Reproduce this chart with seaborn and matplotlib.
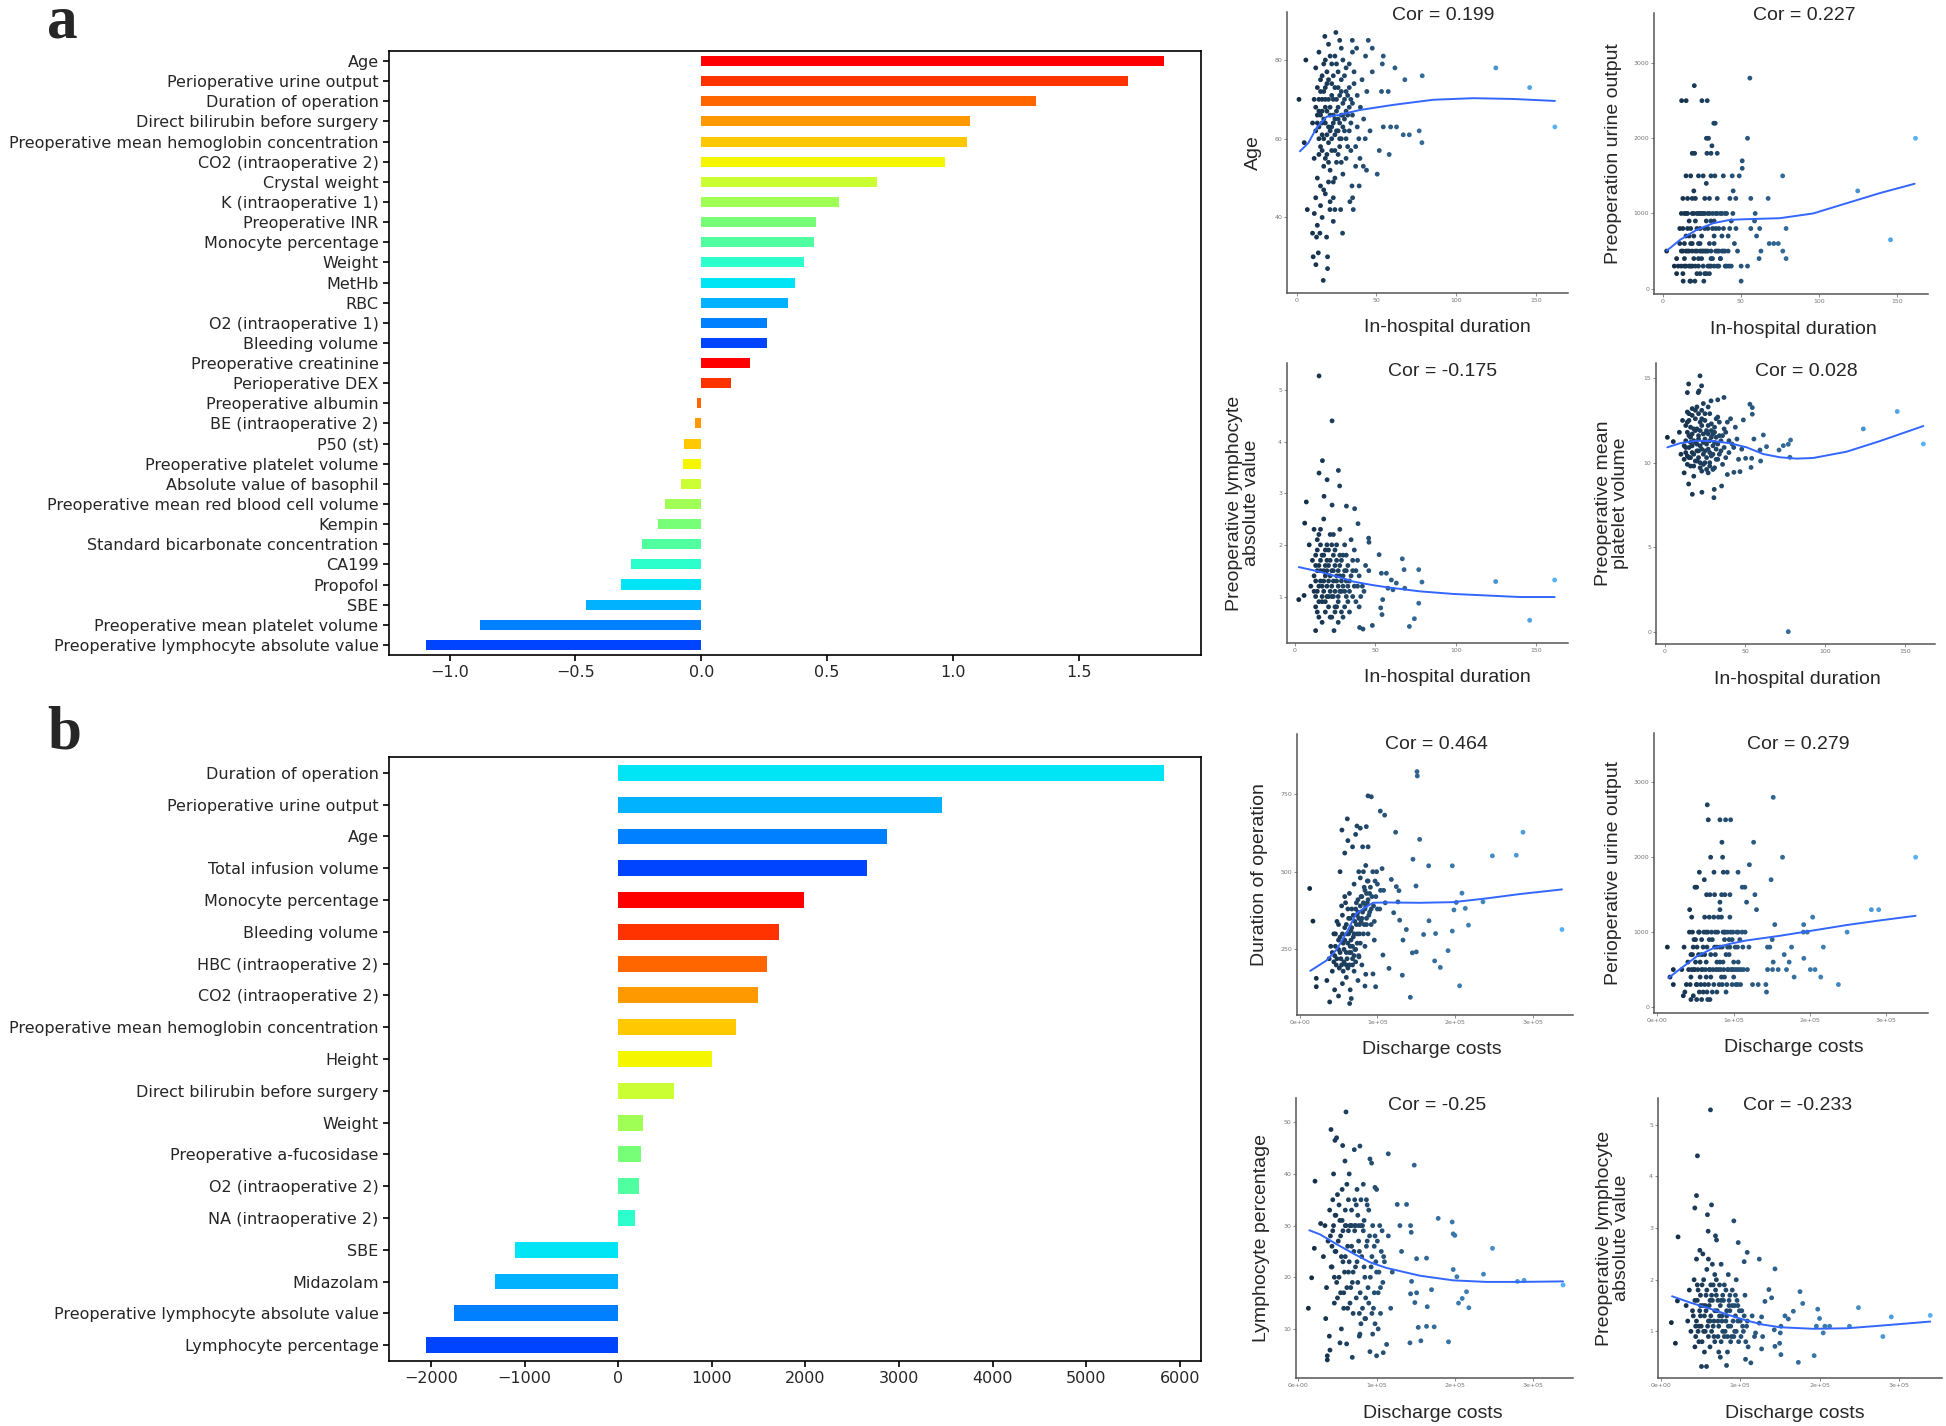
import numpy as np
import pandas as pd
import matplotlib
matplotlib.use("Agg")
import matplotlib.pyplot as plt
from matplotlib.colors import LinearSegmentedColormap
import seaborn as sns

# ---------------- bar chart data ----------------
a_labels = ["Age", "Perioperative urine output", "Duration of operation",
            "Direct bilirubin before surgery", "Preoperative mean hemoglobin concentration",
            "CO2 (intraoperative 2)", "Crystal weight", "K (intraoperative 1)",
            "Preoperative INR", "Monocyte percentage", "Weight", "MetHb", "RBC",
            "O2 (intraoperative 1)", "Bleeding volume", "Preoperative creatinine",
            "Perioperative DEX", "Preoperative albumin", "BE (intraoperative 2)",
            "P50 (st)", "Preoperative platelet volume", "Absolute value of basophil",
            "Preoperative mean red blood cell volume", "Kempin",
            "Standard bicarbonate concentration", "CA199", "Propofol", "SBE",
            "Preoperative mean platelet volume", "Preoperative lymphocyte absolute value"]
a_values = [1.839, 1.697, 1.329, 1.066, 1.057, 0.968, 0.699, 0.547, 0.457, 0.448,
            0.408, 0.371, 0.346, 0.260, 0.260, 0.192, 0.117, -0.018, -0.024, -0.070,
            -0.072, -0.082, -0.145, -0.170, -0.236, -0.281, -0.320, -0.459, -0.881, -1.094]

b_labels = ["Duration of operation", "Perioperative urine output", "Age",
            "Total infusion volume", "Monocyte percentage", "Bleeding volume",
            "HBC (intraoperative 2)", "CO2 (intraoperative 2)",
            "Preoperative mean hemoglobin concentration", "Height",
            "Direct bilirubin before surgery", "Weight", "Preoperative a-fucosidase",
            "O2 (intraoperative 2)", "NA (intraoperative 2)", "SBE", "Midazolam",
            "Preoperative lymphocyte absolute value", "Lymphocyte percentage"]
b_values = [5832, 3461, 2870, 2662, 1988, 1714, 1589, 1497, 1256, 1007, 591, 266,
            241, 225, 175, -1098, -1314, -1755, -2055]

# ---------------- scatter data (x, y) ----------------
a1_points = [(1.5, 70), (5.8, 80), (4.8, 59), (124.8, 78), (146, 73), (161.8, 63),
             (78.7, 76), (67.8, 75), (61.6, 78), (54.3, 81), (53.7, 79), (57.4, 72),
             (53.2, 72), (62.6, 63), (58.9, 63), (54.3, 63), (66.8, 61), (70.6, 61),
             (76.8, 62), (78.5, 59), (58, 56), (51.8, 57), (50.5, 51), (47.4, 77),
             (47.4, 83), (43.2, 81), (37.6, 83), (34.9, 85), (44.9, 85), (24.6, 87),
             (17.7, 86), (16.7, 24), (12.1, 28), (19.4, 27), (10.4, 30), (19.4, 30),
             (13.6, 31), (23, 39), (10, 36), (14.6, 36), (28.8, 36), (18.8, 35),
             (12.5, 35), (6.7, 42), (20.9, 42), (24, 42), (27.6, 42), (35.5, 42),
             (11.1, 41), (39.2, 48), (35.1, 45), (33.4, 44), (41.8, 53), (43.8, 52),
             (39.7, 55), (34.7, 48),
             (12, 62), (13, 66), (14, 70), (15, 58), (16, 64), (17, 72), (18, 68),
             (19, 61), (20, 75), (21, 66), (22, 63), (23, 70), (24, 57), (25, 67),
             (26, 73), (27, 64), (28, 60), (29, 69), (30, 65), (32, 71), (33, 62),
             (35, 66), (36, 74), (38, 63), (40, 68), (11, 55), (13, 50), (15, 48),
             (17, 53), (19, 56), (21, 52), (23, 49), (25, 54), (27, 58), (29, 51),
             (31, 55), (34, 57), (37, 53), (12, 78), (14, 82), (16, 76), (18, 80),
             (20, 84), (22, 79), (24, 81), (26, 77), (28, 83), (30, 76), (33, 79),
             (36, 77), (10, 64), (11, 70), (14, 60), (16, 67), (18, 73), (20, 59),
             (22, 71), (24, 65), (26, 62), (28, 72), (31, 67), (34, 70), (39, 60),
             (42, 65), (44, 72), (46, 62), (12, 45), (15, 43), (18, 46), (21, 44),
             (13, 38), (16, 40)]
a1_core = [(13, 64), (14, 67), (15, 72), (16, 61), (17, 65), (18, 70), (19, 74), (20, 63),
           (21, 68), (22, 60), (23, 66), (24, 73), (25, 62), (26, 68), (27, 71), (28, 66),
           (29, 63), (30, 70), (31, 60), (32, 66), (33, 73), (34, 64), (35, 69), (12, 68),
           (13, 73), (14, 63), (15, 66), (16, 70), (17, 60), (18, 64), (19, 67), (20, 70),
           (21, 62), (22, 74), (23, 64), (24, 61), (25, 70), (26, 65), (27, 60), (28, 75),
           (29, 66), (30, 62), (31, 72), (32, 58), (33, 68), (14, 56), (16, 57), (18, 55),
           (20, 54), (22, 57), (24, 50), (26, 56), (28, 54), (17, 47), (20, 49), (23, 45),
           (15, 75), (17, 79), (19, 77), (21, 81), (23, 76), (25, 79), (27, 85), (29, 80),
           (31, 78), (35, 82), (38, 71), (41, 75), (43, 60), (37, 58)]
a1_smooth = [(2.1, 56.8), (7.3, 58.9), (12.5, 62.7), (18.8, 65.6), (26, 66),
             (39.7, 67.3), (60.5, 68.6), (85.6, 69.9), (110.6, 70.3), (135.7, 70.1),
             (161.8, 69.6)]

a2_points = [(2.6, 500), (162, 2000), (125, 1300), (146, 650), (55.9, 2800),
             (20.3, 2700), (12.2, 2500), (15.1, 2500), (25.2, 2500), (28.6, 2500),
             (32.8, 2200), (33.7, 2200), (28.1, 2000), (29.4, 2000), (31.6, 1900),
             (54.4, 2000), (19, 1800), (20.5, 1800), (28.4, 1800), (31, 1800),
             (35, 1800), (51, 1700), (51, 1600), (76.9, 1500), (67.6, 1200),
             (44.6, 1500), (49.1, 1500), (38.9, 1500), (33.5, 1500), (45.2, 1300),
             (43.1, 1200), (46.9, 1200), (79.1, 800), (79.1, 400), (77, 500),
             (74.1, 600), (71.2, 600), (68.3, 600), (61.8, 400), (63, 500),
             (60.2, 700), (58.9, 900), (62.2, 800), (56.5, 800), (59.3, 1000),
             (56.5, 1200), (50.3, 100), (50.3, 300), (54.4, 300), (13.2, 100),
             (17.5, 100), (20.7, 100), (26.4, 100), (9, 200), (7.5, 300), (42.6, 300),
             (40.1, 300), (37.1, 400),
             (12, 500), (14, 1000), (15, 300), (16, 800), (17, 500), (18, 600),
             (19, 1000), (20, 400), (21, 500), (22, 800), (23, 300), (24, 1000),
             (25, 700), (26, 500), (27, 200), (28, 900), (29, 500), (30, 1200),
             (31, 400), (32, 1000), (33, 600), (34, 500), (36, 800), (38, 1000),
             (40, 500), (42, 700), (44, 900), (13, 200), (15, 700), (17, 900),
             (19, 300), (21, 1200), (23, 600), (25, 400), (27, 1000), (29, 800),
             (31, 300), (33, 900), (35, 1200), (37, 400), (12, 1000), (14, 400),
             (16, 1200), (18, 1500), (20, 1300), (22, 1000), (24, 500), (26, 1500),
             (28, 1400), (30, 600), (35, 1000), (39, 500), (41, 300), (45, 1000),
             (46, 600), (48, 500), (11, 600), (10, 300), (9, 400), (24, 200),
             (30, 200), (18, 100)]
a2_core = [(13, 500), (14, 300), (15, 500), (16, 1000), (17, 300), (18, 800), (19, 500),
           (20, 1000), (21, 300), (22, 500), (23, 1000), (24, 800), (25, 500), (26, 300),
           (27, 800), (28, 500), (29, 1000), (30, 300), (31, 500), (32, 800), (33, 300),
           (34, 1000), (35, 500), (36, 300), (37, 1000), (38, 500), (39, 800), (40, 1000),
           (13, 800), (15, 1000), (17, 700), (19, 600), (21, 900), (23, 400), (25, 1000),
           (27, 500), (29, 300), (31, 900), (33, 700), (35, 300), (14, 600), (16, 500),
           (18, 300), (20, 700), (22, 200), (24, 600), (26, 1000), (28, 200), (30, 1000),
           (32, 400), (34, 800), (36, 500), (12, 300), (11, 800), (13, 1200), (19, 1200),
           (23, 1500), (27, 1200), (31, 1500), (15, 1500), (42, 500), (44, 300), (43, 800),
           (47, 800), (38, 700), (41, 1000)]
a2_smooth = [(2.6, 503), (11.1, 648), (21.7, 781), (32.4, 870), (43.1, 915),
             (53.7, 924), (75, 937), (96.4, 1000), (117.7, 1135), (139, 1270),
             (161.4, 1395)]

a3_points = [(15.1, 5.27), (23.2, 4.40), (17.2, 3.63), (15.1, 3.39), (27.1, 3.44),
             (20.1, 3.26), (27.9, 3.14), (18.2, 2.94), (7.2, 2.83), (32.1, 2.75),
             (37.2, 2.70), (23.2, 2.77), (6.2, 2.42), (39.3, 2.41), (45.9, 2.13),
             (46.1, 2.05), (52.4, 1.81), (66.8, 1.73), (67.9, 1.52), (77, 1.52),
             (79, 1.28), (124.8, 1.29), (161.4, 1.32), (145.9, 0.54), (77, 0.87),
             (74.3, 0.57), (71.2, 0.42), (54.2, 0.65), (53.4, 0.78), (54.6, 0.94),
             (48.2, 0.44), (40.3, 0.40), (42.4, 0.37), (13, 0.34), (24.4, 0.34),
             (2.5, 0.94), (5.8, 1.02), (56.9, 1.45), (60, 1.32), (63.1, 1.26),
             (61, 1.13), (57.9, 1.16), (68.3, 1.16), (53.8, 1.45),
             (12, 1.4), (13, 1.8), (14, 1.1), (15, 1.6), (16, 2.0), (17, 1.2),
             (18, 1.5), (19, 0.9), (20, 1.7), (21, 1.3), (22, 2.2), (23, 1.0),
             (24, 1.5), (25, 1.9), (26, 0.8), (27, 1.2), (28, 1.6), (29, 0.7),
             (30, 1.4), (31, 1.1), (32, 1.8), (33, 0.9), (34, 1.3), (35, 2.1),
             (36, 1.0), (38, 1.5), (40, 0.8), (42, 1.2), (44, 1.6), (12, 2.3),
             (14, 0.7), (16, 1.3), (18, 2.5), (20, 1.0), (22, 0.6), (24, 1.8),
             (26, 1.4), (28, 2.3), (30, 0.6), (32, 1.5), (34, 0.7), (37, 1.9),
             (39, 1.2), (13, 1.0), (15, 2.2), (17, 0.5), (19, 1.9), (21, 1.6),
             (23, 2.0), (25, 1.1), (27, 0.5), (29, 1.7), (31, 2.0), (33, 1.2),
             (36, 1.7), (41, 1.0), (46, 1.5), (11, 1.7), (10, 1.2), (9, 2.0)]
a3_core = [(13, 1.3), (14, 1.5), (15, 1.2), (16, 1.7), (17, 1.0), (18, 1.3), (19, 1.6),
           (20, 1.2), (21, 1.9), (22, 1.4), (23, 1.2), (24, 1.0), (25, 1.6), (26, 1.3),
           (27, 1.5), (28, 1.1), (29, 1.3), (30, 1.8), (31, 1.5), (32, 1.0), (33, 1.6),
           (34, 1.1), (35, 1.4), (12, 1.1), (13, 1.6), (14, 1.9), (15, 0.9), (16, 1.5),
           (17, 1.8), (18, 1.1), (19, 1.4), (20, 1.5), (21, 1.0), (22, 1.7), (23, 1.5),
           (24, 1.3), (25, 0.8), (26, 1.7), (27, 1.0), (28, 1.4), (29, 1.1), (30, 1.2),
           (31, 0.8), (32, 1.3), (14, 2.1), (16, 2.3), (18, 1.8), (20, 2.0), (22, 1.1),
           (24, 2.2), (26, 2.0), (28, 1.8), (13, 0.8), (15, 0.6), (17, 0.9), (19, 0.7),
           (21, 0.8), (23, 0.6), (25, 0.7), (27, 0.9), (37, 1.2), (38, 0.9), (40, 1.4),
           (43, 1.1), (36, 1.5), (39, 1.7)]
a3_smooth = [(2.5, 1.57), (15.5, 1.48), (25.9, 1.39), (36.2, 1.29), (46.6, 1.23),
             (56.9, 1.18), (77.6, 1.10), (98.3, 1.05), (119, 1.02), (139.7, 0.99),
             (161.4, 0.99)]

a4_points = [(21.9, 15.14), (14.8, 14.66), (22.9, 14.55), (21.3, 14.25), (20.8, 14.15),
             (14, 14.15), (36.9, 13.86), (33, 13.72), (28.8, 13.66), (145.2, 13.03),
             (53.1, 13.46), (54.6, 13.26), (54.6, 12.87), (49, 12.53), (124, 12.0),
             (161.5, 11.11), (78.5, 11.34), (77.1, 11.09), (74, 11.01), (71.3, 10.75),
             (63.5, 10.95), (61.5, 11.64), (55.6, 11.40), (59.4, 10.75), (78.1, 10.32),
             (59.8, 10.10), (54.2, 10.26), (50.4, 10.26), (53.8, 9.72), (46.9, 9.47),
             (43.1, 9.43), (35.4, 8.62), (30.6, 7.93), (30.8, 8.42), (17.1, 8.13),
             (23.1, 8.25), (14.8, 8.74), (77.1, 0.0), (1.5, 11.5), (5.2, 11.25),
             (12, 11.0), (13, 12.2), (14, 10.4), (15, 11.6), (16, 9.8), (17, 12.8),
             (18, 11.3), (19, 10.1), (20, 12.0), (21, 10.7), (22, 11.9), (23, 9.5),
             (24, 11.2), (25, 12.5), (26, 10.3), (27, 11.7), (28, 10.0), (29, 12.3),
             (30, 11.0), (31, 9.7), (32, 11.5), (33, 12.7), (34, 10.5), (35, 11.3),
             (36, 9.9), (38, 11.8), (40, 10.6), (42, 11.1), (44, 12.1), (46, 10.2),
             (12, 9.4), (14, 13.0), (16, 11.2), (18, 9.2), (20, 13.3), (22, 10.0),
             (24, 13.5), (26, 11.8), (28, 12.9), (30, 9.6), (32, 10.8), (34, 12.4),
             (37, 10.9), (39, 9.3), (11, 12.5), (10, 10.5), (9, 11.8), (13, 10.9),
             (15, 12.9), (17, 10.6), (19, 13.1), (21, 11.4), (23, 12.6), (25, 10.0),
             (27, 9.4), (29, 11.5), (31, 12.1), (33, 10.2), (41, 12.6), (45, 11.4),
             (48, 10.8)]
a4_core = [(13, 11.3), (14, 11.8), (15, 10.9), (16, 11.5), (17, 11.0), (18, 12.0),
           (19, 11.2), (20, 10.7), (21, 11.6), (22, 11.0), (23, 12.2), (24, 10.5),
           (25, 11.4), (26, 11.9), (27, 10.8), (28, 11.3), (29, 10.4), (30, 11.7),
           (31, 11.2), (32, 10.2), (33, 11.1), (34, 11.6), (35, 10.7), (12, 10.2),
           (13, 10.6), (14, 12.4), (15, 10.3), (16, 12.1), (17, 11.7), (18, 10.5),
           (19, 11.9), (20, 11.1), (21, 10.3), (22, 12.4), (23, 10.8), (24, 11.7),
           (25, 10.7), (26, 11.1), (27, 12.2), (28, 10.6), (29, 11.9), (30, 10.5),
           (31, 11.8), (32, 12.6), (14, 9.9), (16, 10.3), (18, 9.8), (20, 10.1),
           (22, 9.7), (24, 9.9), (26, 9.6), (28, 9.8), (15, 12.5), (17, 13.2), (19, 12.6),
           (21, 12.9), (23, 13.1), (25, 12.9), (27, 13.3), (36, 11.6), (37, 12.0),
           (38, 10.3), (40, 11.3), (43, 10.9), (39, 12.4)]
a4_smooth = [(1.5, 10.91), (9.4, 11.15), (19.8, 11.30), (30.2, 11.28), (40.6, 11.15),
             (51, 10.91), (61.5, 10.51), (71.9, 10.32), (82.3, 10.24), (92.7, 10.28),
             (113.5, 10.65), (134.4, 11.28), (161.5, 12.17)]

b1_points = [(12900, 446), (17100, 341), (21400, 157), (21400, 130), (150900, 822),
             (151300, 808), (92200, 741), (87900, 744), (61300, 670), (103700, 695),
             (109300, 682), (54400, 634), (73700, 647), (85700, 645), (154300, 604),
             (123400, 627), (287200, 627), (278600, 553), (247800, 551), (196300, 519),
             (165900, 519), (145700, 540), (149600, 454), (208700, 431), (201400, 401),
             (198400, 377), (213000, 382), (235700, 403), (217100, 328), (196300, 309),
             (166300, 342), (174800, 301), (159400, 298), (144900, 239), (150000, 242),
             (190800, 246), (173600, 213), (180900, 192), (205700, 133), (142300, 96),
             (132000, 167), (114900, 189), (107100, 232), (337300, 314), (124300, 452),
             (117900, 475), (127700, 439), (126400, 403), (128600, 344), (120900, 368),
             (132900, 280), (137200, 314), (38600, 81), (64300, 76), (66400, 92),
             (84000, 132), (97700, 130), (94300, 171), (76300, 226),
             (35000, 150), (38000, 220), (40000, 260), (42000, 180), (44000, 300),
             (45000, 230), (47000, 200), (48000, 340), (50000, 250), (51000, 190),
             (52000, 290), (53000, 220), (55000, 360), (56000, 270), (57000, 210),
             (58000, 320), (59000, 400), (60000, 240), (61000, 300), (62000, 190),
             (63000, 350), (64000, 430), (65000, 260), (66000, 310), (67000, 380),
             (68000, 220), (69000, 290), (70000, 460), (71000, 340), (72000, 250),
             (73000, 400), (74000, 300), (75000, 370), (76000, 500), (77000, 330),
             (78000, 270), (79000, 420), (80000, 350), (81000, 580), (82000, 300),
             (83000, 450), (84000, 380), (85000, 520), (86000, 330), (87000, 400),
             (88000, 470), (89000, 360), (90000, 430), (92000, 380), (94000, 500),
             (96000, 340), (98000, 420), (100000, 460), (103000, 380), (106000, 510),
             (108000, 440), (110000, 400), (45000, 120), (50000, 100), (55000, 140),
             (60000, 160), (65000, 120), (70000, 180), (75000, 150), (80000, 200),
             (85000, 170), (52000, 500), (58000, 560), (62000, 600), (68000, 580),
             (72000, 620), (78000, 640), (88000, 580)]
b1_core = [(42000, 240), (44000, 210), (46000, 260), (48000, 220), (50000, 280),
           (52000, 240), (54000, 200), (55000, 300), (57000, 250), (58000, 280),
           (60000, 330), (61000, 220), (62000, 270), (63000, 300), (64000, 240),
           (65000, 350), (66000, 280), (67000, 320), (68000, 260), (69000, 360),
           (70000, 300), (71000, 250), (72000, 380), (73000, 330), (74000, 270),
           (75000, 410), (76000, 350), (77000, 300), (78000, 390), (79000, 340),
           (80000, 420), (81000, 370), (82000, 400), (83000, 330), (84000, 440),
           (85000, 390), (86000, 350), (87000, 470), (88000, 410), (90000, 370),
           (91000, 450), (93000, 420), (95000, 390), (97000, 470), (99000, 500),
           (56000, 180), (60000, 200), (64000, 200), (68000, 200), (72000, 210),
           (76000, 230), (66000, 240), (70000, 230), (74000, 360), (78000, 480),
           (82000, 500), (86000, 430), (62000, 380), (58000, 420), (54000, 390),
           (50000, 330), (46000, 300), (84000, 260), (88000, 300), (92000, 330),
           (96000, 280), (100000, 380), (104000, 440)]
b1_smooth = [(13700, 181), (34300, 214), (47100, 248), (60000, 302), (72900, 366),
             (85700, 387), (94300, 400), (111400, 401), (154300, 400), (197100, 402),
             (240000, 414), (282900, 428), (337300, 443)]

b2_points = [(13100, 800), (20900, 500), (20900, 300), (16600, 400), (151800, 2800),
             (65400, 2700), (66700, 2500), (82000, 2500), (89400, 2500), (96000, 2500),
             (84600, 2200), (126100, 2200), (69800, 2000), (85500, 2000), (164000, 2000),
             (338400, 2000), (120600, 1900), (149000, 1700), (153800, 1100), (191700, 1100),
             (203500, 1200), (280400, 1300), (290000, 1300), (248600, 1000), (191300, 1000),
             (196400, 1000), (175800, 800), (217500, 800), (166200, 700), (172700, 600),
             (191900, 650), (200400, 500), (206600, 500), (179200, 400), (214100, 400),
             (237200, 300), (169200, 500), (158300, 500), (150900, 500), (144400, 500),
             (151800, 600), (144300, 800), (147400, 800), (150500, 900), (142200, 300),
             (143000, 200), (132100, 300), (124700, 300), (129900, 1300), (116900, 1400),
             (114700, 1600), (111200, 1600), (127800, 1500), (105700, 1800), (91600, 1800),
             (86400, 1800), (74200, 1800), (55000, 1800), (49300, 1600), (51500, 1600),
             (61500, 1700), (42300, 1300), (82000, 1400), (84200, 1500), (88500, 1500),
             (95100, 1500), (64500, 1500), (68900, 1500), (51500, 100), (58000, 100),
             (68900, 100), (34000, 150), (47100, 150),
             (32000, 500), (35000, 800), (38000, 300), (40000, 600), (42000, 1000),
             (44000, 400), (46000, 700), (48000, 500), (50000, 900), (52000, 300),
             (54000, 1000), (56000, 600), (58000, 500), (60000, 800), (62000, 1200),
             (64000, 400), (66000, 1000), (68000, 500), (70000, 700), (72000, 900),
             (74000, 300), (76000, 1000), (78000, 600), (80000, 500), (82000, 800),
             (84000, 1200), (86000, 1000), (88000, 400), (90000, 700), (92000, 500),
             (94000, 900), (96000, 1000), (98000, 300), (100000, 600), (102000, 800),
             (104000, 500), (106000, 1000), (108000, 900), (110000, 500), (112000, 800),
             (115000, 1000), (118000, 500), (120000, 800), (45000, 1200), (55000, 200),
             (65000, 200), (75000, 1500), (85000, 300), (95000, 1200), (105000, 300),
             (48000, 900), (58000, 700), (68000, 1200), (78000, 800), (88000, 1000),
             (98000, 500), (36000, 200), (44000, 100), (62000, 300), (72000, 200),
             (82000, 1300), (92000, 800), (106000, 600)]
b2_core = [(41000, 500), (43000, 300), (45000, 500), (47000, 800), (49000, 500),
           (51000, 300), (53000, 500), (55000, 1000), (57000, 300), (59000, 500),
           (61000, 1000), (63000, 500), (65000, 800), (67000, 300), (69000, 500),
           (71000, 1000), (73000, 500), (75000, 800), (77000, 500), (79000, 1000),
           (81000, 300), (83000, 500), (85000, 800), (87000, 500), (89000, 1000),
           (91000, 300), (93000, 500), (95000, 800), (97000, 500), (99000, 1000),
           (101000, 500), (103000, 300), (105000, 800), (107000, 500), (109000, 300),
           (111000, 1000), (113000, 500), (46000, 1000), (52000, 800), (58000, 900),
           (64000, 600), (70000, 400), (76000, 700), (82000, 600), (88000, 900),
           (94000, 700), (100000, 400), (50000, 600), (56000, 400), (62000, 700),
           (68000, 900), (74000, 1200), (80000, 1200), (86000, 600), (92000, 1000),
           (98000, 900), (104000, 1000), (60000, 200), (66000, 100), (78000, 200),
           (90000, 200), (44000, 700), (54000, 700), (64000, 1000), (84000, 400)]
b2_smooth = [(14400, 387), (29700, 507), (51500, 675), (73300, 786), (95100, 844),
             (116900, 889), (160500, 951), (204100, 1022), (247700, 1094),
             (291300, 1156), (338400, 1218)]

b3_points = [(60900, 52.0), (41700, 48.6), (46800, 46.5), (48900, 47.0), (78700, 45.4),
             (56600, 45.5), (71500, 44.7), (91500, 42.9), (93600, 42.1), (114900, 43.9),
             (148100, 41.7), (59600, 42.5), (97900, 37.4), (100000, 37.0), (126400, 34.1),
             (138300, 34.1), (178700, 31.4), (196600, 30.7), (200000, 28.1), (197900, 28.4),
             (129800, 30.0), (143400, 30.0), (144300, 28.7), (131900, 25.0), (248100, 25.6),
             (236600, 20.6), (197900, 21.5), (202600, 20.1), (151100, 23.6), (163800, 23.7),
             (144700, 19.2), (151100, 17.0), (148900, 15.1), (143400, 16.8), (170200, 17.6),
             (164700, 14.3), (153200, 10.3), (163800, 10.5), (173600, 10.4), (156600, 7.7),
             (142600, 7.3), (191900, 7.5), (204700, 15.0), (209400, 15.9), (214900, 17.2),
             (217900, 14.1), (280000, 19.2), (288500, 19.4), (338300, 18.5), (12800, 14.0),
             (17000, 19.9), (20400, 25.6), (21300, 38.6), (28500, 30.4), (37000, 4.0),
             (37000, 4.8), (68900, 4.5), (40400, 5.9), (53200, 7.3), (61700, 7.1),
             (39600, 8.6), (77900, 8.6), (78700, 9.0), (91500, 5.6), (108500, 5.4),
             (112800, 7.0), (100000, 4.8),
             (32000, 24), (34000, 30), (36000, 18), (38000, 27), (40000, 33), (42000, 22),
             (44000, 29), (46000, 15), (48000, 25), (50000, 36), (52000, 20), (54000, 28),
             (56000, 31), (58000, 17), (60000, 24), (62000, 38), (64000, 21), (66000, 30),
             (68000, 26), (70000, 13), (72000, 29), (74000, 34), (76000, 19), (78000, 25),
             (80000, 11), (82000, 30), (84000, 22), (86000, 16), (88000, 27), (90000, 33),
             (92000, 20), (94000, 24), (96000, 14), (98000, 28), (100000, 21), (102000, 17),
             (104000, 30), (106000, 25), (108000, 19), (110000, 23), (35000, 12),
             (45000, 40), (55000, 10), (65000, 40), (75000, 37), (85000, 12), (95000, 9),
             (105000, 13), (115000, 28), (118000, 14), (120000, 21), (47000, 32),
             (57000, 23), (67000, 18), (77000, 30), (87000, 35), (97000, 26), (43000, 26),
             (63000, 14), (73000, 22), (83000, 38)]
b3_core = [(41000, 28), (43000, 22), (45000, 30), (47000, 25), (49000, 19), (51000, 27),
           (53000, 31), (55000, 24), (57000, 29), (59000, 21), (61000, 30), (63000, 26),
           (65000, 23), (67000, 30), (69000, 19), (71000, 25), (73000, 30), (75000, 23),
           (77000, 27), (79000, 17), (81000, 24), (83000, 29), (85000, 20), (87000, 26),
           (89000, 18), (91000, 28), (93000, 22), (95000, 30), (97000, 17), (99000, 23),
           (101000, 27), (103000, 21), (105000, 18), (107000, 29), (109000, 24),
           (44000, 35), (48000, 32), (52000, 34), (56000, 37), (60000, 33), (64000, 35),
           (68000, 33), (72000, 35), (76000, 32), (80000, 35), (84000, 31), (88000, 34),
           (46000, 20), (50000, 16), (54000, 17), (58000, 14), (62000, 18), (66000, 15),
           (70000, 21), (74000, 16), (78000, 13), (82000, 14), (86000, 12), (90000, 15),
           (94000, 13), (98000, 11), (102000, 10), (60000, 30), (64000, 29), (68000, 30),
           (72000, 30), (80000, 30)]
b3_smooth = [(14000, 29.1), (27700, 28.3), (48900, 26.4), (70200, 24.6), (91500, 22.9),
             (112800, 21.8), (155300, 20.3), (197900, 19.4), (240400, 19.1),
             (283000, 19.1), (338300, 19.2)]

b4_points = [(62600, 5.29), (46200, 4.40), (45000, 3.63), (42900, 3.39), (63900, 3.45),
             (58800, 3.26), (92000, 3.14), (59700, 2.94), (21800, 2.83), (68900, 2.85),
             (70200, 2.77), (97500, 2.72), (49200, 2.57), (108800, 2.53), (124000, 2.40),
             (143700, 2.21), (105000, 2.35), (175200, 1.77), (197500, 1.43), (248700, 1.46),
             (290000, 1.28), (339000, 1.31), (279400, 0.90), (193000, 0.53), (173100, 0.40),
             (113400, 0.39), (106700, 0.46), (82800, 0.34), (51300, 0.32), (57600, 0.32),
             (13400, 1.17), (18500, 0.77), (21000, 1.59), (160500, 1.24), (156300, 1.30),
             (151200, 1.10), (142900, 1.03), (150400, 0.97), (149600, 0.77), (151200, 0.55),
             (143700, 0.71), (178600, 1.54), (166800, 1.39), (199800, 1.25), (206500, 1.10),
             (212400, 1.10), (204400, 0.97), (195800, 1.10), (237400, 1.10), (136100, 1.81),
             (131100, 1.58), (139500, 1.65), (126900, 1.28), (124000, 1.16), (128200, 0.90),
             (126900, 0.66), (119300, 0.97),
             (32000, 1.5), (34000, 1.2), (36000, 1.8), (38000, 1.0), (40000, 1.4),
             (42000, 2.0), (44000, 1.1), (46000, 1.6), (48000, 0.8), (50000, 1.3),
             (52000, 1.9), (54000, 1.0), (56000, 1.5), (58000, 2.2), (60000, 1.2),
             (62000, 0.7), (64000, 1.7), (66000, 1.1), (68000, 1.4), (70000, 2.0),
             (72000, 0.9), (74000, 1.3), (76000, 1.6), (78000, 1.0), (80000, 1.9),
             (82000, 1.2), (84000, 0.6), (86000, 1.5), (88000, 1.1), (90000, 1.8),
             (92000, 0.9), (94000, 1.3), (96000, 1.6), (98000, 0.8), (100000, 1.2),
             (102000, 1.4), (104000, 1.0), (106000, 1.7), (108000, 1.1), (110000, 0.7),
             (45000, 2.4), (55000, 0.6), (65000, 2.3), (75000, 0.5), (85000, 2.1),
             (95000, 2.0), (47000, 1.0), (57000, 1.4), (67000, 0.9), (77000, 1.3),
             (87000, 1.7), (97000, 1.5), (43000, 0.7), (53000, 2.5), (63000, 1.9),
             (73000, 0.6), (83000, 1.4), (93000, 1.0), (115000, 1.3), (118000, 0.9)]
b4_core = [(41000, 1.3), (43000, 1.6), (45000, 1.2), (47000, 1.8), (49000, 1.4),
           (51000, 1.1), (53000, 1.5), (55000, 1.3), (57000, 1.7), (59000, 1.1),
           (61000, 1.5), (63000, 1.3), (65000, 1.6), (67000, 1.2), (69000, 1.8),
           (71000, 1.4), (73000, 1.1), (75000, 1.5), (77000, 1.2), (79000, 1.6),
           (81000, 1.0), (83000, 1.3), (85000, 1.1), (87000, 1.4), (89000, 0.9),
           (91000, 1.2), (93000, 1.5), (95000, 1.0), (97000, 1.2), (99000, 1.4),
           (101000, 0.9), (103000, 1.1), (105000, 1.3), (107000, 0.8), (109000, 1.2),
           (44000, 0.9), (48000, 1.1), (52000, 0.8), (56000, 1.0), (60000, 0.9),
           (64000, 1.0), (68000, 0.8), (72000, 1.2), (76000, 0.8), (80000, 0.9),
           (84000, 0.9), (88000, 0.8), (46000, 1.9), (50000, 1.7), (54000, 2.0),
           (58000, 1.8), (62000, 1.6), (66000, 1.9), (70000, 1.7), (74000, 1.9),
           (78000, 1.7), (82000, 1.8), (86000, 1.6), (90000, 1.5), (94000, 1.7),
           (60000, 2.4), (68000, 2.1), (76000, 2.3), (50000, 1.5), (62000, 1.2),
           (72000, 1.6)]
b4_smooth = [(14300, 1.68), (36600, 1.56), (66000, 1.42), (87000, 1.31), (108000, 1.21),
             (129000, 1.13), (150000, 1.08), (192000, 1.05), (234000, 1.06),
             (276100, 1.11), (339000, 1.19)]

dur_ticks = [0, 50, 100, 150]
cost_ticks = [0, 100000, 200000, 300000]
cost_tick_labels = ["0e+00", "1e+05", "2e+05", "3e+05"]

# ---------------- style ----------------
sns.set_style("ticks")
plt.rcParams["font.family"] = ["DejaVu Sans"]

W, H = 1946, 1426
fig = plt.figure(figsize=(W / 100, H / 100), dpi=100)


def px_axes(left, top, right, bottom):
    return fig.add_axes([left / W, 1 - bottom / H, (right - left) / W, (bottom - top) / H])


# 15-step rainbow the bars cycle through (red -> blue)
cycle = ["#ff0000", "#ff3300", "#ff6600", "#ff9900", "#ffc800", "#f5f500", "#ccff33",
         "#a0ff55", "#78ff78", "#50ffa0", "#2cffcc", "#00e5f5", "#00b2ff", "#0080ff",
         "#0044ff"]


def bar_panel(ax, labels, values, offset):
    colors = {lab: cycle[(i + offset) % 15] for i, lab in enumerate(labels)}
    df = pd.DataFrame({"feature": labels, "coef": values})
    sns.barplot(data=df, x="coef", y="feature", hue="feature", palette=colors,
                orient="h", width=0.5, saturation=1, linewidth=0, legend=False, ax=ax)
    ax.set_xlabel("")
    ax.set_ylabel("")
    ax.tick_params(axis="both", labelsize=11.5, length=4, width=1.2, color="black")
    for sp in ax.spines.values():
        sp.set_linewidth(1.2)
        sp.set_color("black")
    ax.margins(x=0.05)


ax_a = px_axes(389, 51, 1201, 655)
bar_panel(ax_a, a_labels, a_values, 0)
ax_b = px_axes(389, 757, 1201, 1361)
bar_panel(ax_b, b_labels, b_values, 11)

# ggplot-like gradient for scatter points
grad = LinearSegmentedColormap.from_list("gg", ["#132B43", "#56B1F7"])
lab_font = ["Liberation Sans", "DejaVu Sans"]


def scatter_panel(box, points, smooth, ylabel, xlabel, title, xlim, ylim,
                  yticks, xticks, xticklabels, title_pos, xlab_pos, ylab_off):
    ax = px_axes(*box)
    pts = pd.DataFrame(points, columns=["x", "y"])
    sm = pd.DataFrame(smooth, columns=["x", "y"])
    sns.scatterplot(data=pts, x="x", y="y", hue="x", palette=grad,
                    hue_norm=(pts.x.min(), pts.x.max()), s=12, linewidth=0,
                    legend=False, ax=ax)
    sns.lineplot(data=sm, x="x", y="y", color="#3366FF", lw=1.4, estimator=None,
                 sort=False, ax=ax)
    ax.set_xlim(xlim)
    ax.set_ylim(ylim)
    ax.set_xticks(xticks)
    ax.set_xticklabels(xticklabels)
    ax.set_yticks(yticks)
    ax.set_yticklabels([str(t) for t in yticks])
    sns.despine(ax=ax)
    for sp in ("left", "bottom"):
        ax.spines[sp].set_color("#555555")
        ax.spines[sp].set_linewidth(1.1)
    ax.tick_params(labelsize=4.5, labelcolor="#777777", length=2, width=0.6,
                   color="#777777", pad=1.5)
    ax.set_xlabel(xlabel, fontsize=14, family=lab_font)
    ax.set_ylabel(ylabel, fontsize=14, family=lab_font, linespacing=1.0)
    w = box[2] - box[0]
    h = box[3] - box[1]
    ax.xaxis.label.set_va("center")
    ax.xaxis.set_label_coords(xlab_pos, -35 / h)
    ax.yaxis.label.set_va("center")
    ax.yaxis.set_label_coords(-ylab_off / w, 0.5)
    ax.text(title_pos[0], 1 - title_pos[1] / h, title, transform=ax.transAxes,
            ha="center", va="center", fontsize=14, family=lab_font)
    return ax


dur_lab = [str(t) for t in dur_ticks]
scatter_panel((1287, 12, 1568, 293), a1_points + a1_core, a1_smooth, "Age",
              "In-hospital duration", "Cor = 0.199", (-6, 170), (20.8, 92.2),
              [40, 60, 80], dur_ticks, dur_lab, (0.555, 3), 0.57, 34)
scatter_panel((1654, 13, 1928, 294), a2_points + a2_core, a2_smooth,
              "Preoperation urine output", "In-hospital duration", "Cor = 0.227",
              (-5.5, 170), (-71, 3666), [0, 1000, 2000, 3000], dur_ticks, dur_lab,
              (0.55, 3), 0.51, 41)
scatter_panel((1287, 363, 1568, 643), a3_points + a3_core, a3_smooth,
              "Preoperative lymphocyte\nabsolute value", "In-hospital duration",
              "Cor = -0.175", (-4.8, 169.7), (0.1, 5.52), [1, 2, 3, 4, 5], dur_ticks,
              dur_lab, (0.555, 8), 0.57, 44)
scatter_panel((1656, 363, 1935, 644), a4_points + a4_core, a4_smooth,
              "Preoperative mean\nplatelet volume", "In-hospital duration",
              "Cor = 0.028", (-5.6, 168.8), (-0.73, 15.9), [0, 5, 10, 15], dur_ticks,
              dur_lab, (0.54, 8), 0.505, 44)
scatter_panel((1297, 734, 1573, 1015), b1_points + b1_core, b1_smooth,
              "Duration of operation", "Discharge costs", "Cor = 0.464",
              (-3400, 351500), (39, 943), [250, 500, 750], cost_ticks, cost_tick_labels,
              (0.507, 11), 0.49, 38)
scatter_panel((1654, 733, 1928, 1013), b2_points + b2_core, b2_smooth,
              "Perioperative urine output", "Discharge costs", "Cor = 0.279",
              (-4400, 354600), (-80, 3659), [0, 1000, 2000, 3000], cost_ticks,
              cost_tick_labels, (0.526, 11), 0.51, 41)
scatter_panel((1296, 1098, 1573, 1378), b3_points + b3_core, b3_smooth,
              "Lymphocyte percentage", "Discharge costs", "Cor = -0.25",
              (-3000, 351000), (0.5, 54.7), [10, 20, 30, 40, 50], cost_ticks,
              cost_tick_labels, (0.51, 7), 0.495, 34)
scatter_panel((1658, 1098, 1942, 1378), b4_points + b4_core, b4_smooth,
              "Preoperative lymphocyte\nabsolute value", "Discharge costs",
              "Cor = -0.233", (-3400, 353800), (0.097, 5.52), [1, 2, 3, 4, 5],
              cost_ticks, cost_tick_labels, (0.49, 7), 0.48, 45)

# panel letters
fig.text(47 / W, 1 - 38 / H, "a", fontsize=44, fontweight="bold",
         family=["Liberation Serif", "DejaVu Serif"], va="baseline", ha="left")
fig.text(47 / W, 1 - 748 / H, "b", fontsize=44, fontweight="bold",
         family=["Liberation Serif", "DejaVu Serif"], va="baseline", ha="left")

fig.savefig("out.png", dpi=100)
